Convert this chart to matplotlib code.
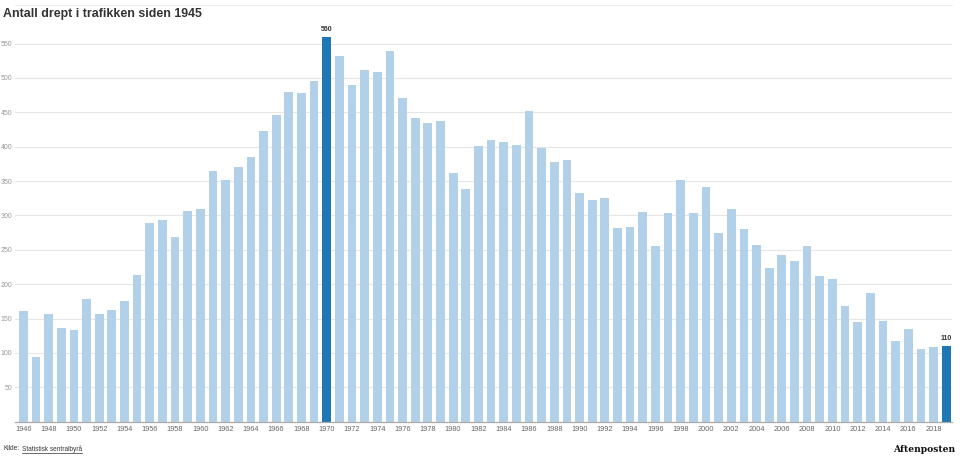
import matplotlib.pyplot as plt

plt.rcParams['font.family'] = ['Liberation Sans', 'DejaVu Sans']

# Antall drept i trafikken per år
years = list(range(1946, 2020))
deaths = [
    161, 94, 157, 136, 133, 178, 157, 163, 175, 213,
    289, 294, 269, 306, 310, 365, 351, 371, 385, 423,
    446, 479, 478, 495, 560, 532, 489, 511, 509, 539,
    471, 442, 434, 437, 362, 338, 401, 409, 407, 402,
    452, 398, 378, 381, 332, 323, 325, 281, 283, 305,
    255, 303, 352, 304, 341, 275, 310, 280, 257, 224,
    242, 233, 255, 212, 208, 168, 145, 187, 147, 117,
    135, 106, 108, 110,
]
highlight = [1970, 2019]
y_ticks = [50, 100, 150, 200, 250, 300, 350, 400, 450, 500, 550]
x_ticks = list(range(1946, 2019, 2))

light = '#b2d1e8'
dark = '#1f77b4'
colors = [dark if y in highlight else light for y in years]

fig = plt.figure(figsize=(9.6, 4.66), dpi=100)
ax = fig.add_axes([15 / 960, 44.3 / 466, 937 / 960, 416.7 / 466])

ax.bar(years, deaths, width=0.69, color=colors, zorder=2)

for y, v in zip(years, deaths):
    if y in highlight:
        ax.text(y, v + 6, str(v), ha='center', va='bottom', fontsize=5,
                fontweight='bold', color='#333333')

ax.set_xlim(1946 - 0.657, 2019 + 0.46)
ax.set_ylim(0, 606)
ax.set_yticks(y_ticks)
ax.set_xticks(x_ticks)
ax.set_xticklabels([str(x) for x in x_ticks])
ax.grid(axis='y', color='#e6e6e6', linewidth=0.8, zorder=0)
ax.tick_params(axis='y', length=0, labelsize=5, labelcolor='#999999', pad=2)
ax.tick_params(axis='x', length=0, labelsize=5.3, labelcolor='#666666', pad=3)

for side in ['left', 'right']:
    ax.spines[side].set_visible(False)
ax.spines['top'].set_color('#eeeeee')
ax.spines['top'].set_linewidth(0.8)
ax.spines['bottom'].set_color('#aaaaaa')
ax.spines['bottom'].set_linewidth(0.9)
ax.spines['bottom'].set_zorder(3)

fig.text(3 / 960, 1 - 14 / 466, 'Antall drept i trafikken siden 1945',
         fontsize=8.9, fontweight='bold', color='#333333', va='center', ha='left')

# kildelinje
kilde = fig.text(3 / 960, 1 - 449 / 466, 'Kilde:', fontsize=4.7, color='#333333',
                 va='center', ha='left')
fig.canvas.draw()
kb = kilde.get_window_extent()
link = fig.text((kb.x1 + 3) / 960, 1 - 449 / 466, 'Statistisk sentralbyrå', fontsize=4.7,
                color='#333333', va='center', ha='left')
fig.canvas.draw()
bb = link.get_window_extent()
fig.add_artist(plt.Line2D([bb.x0 / 960, bb.x1 / 960], [(bb.y0 - 0.5) / 466] * 2,
                          color='#333333', linewidth=0.5))

fig.text(955 / 960, 1 - 450 / 466, 'Aftenposten', fontsize=6.6, fontweight='bold',
         family='DejaVu Serif', color='#111111', va='center', ha='right')

fig.savefig('out.png', dpi=100)
